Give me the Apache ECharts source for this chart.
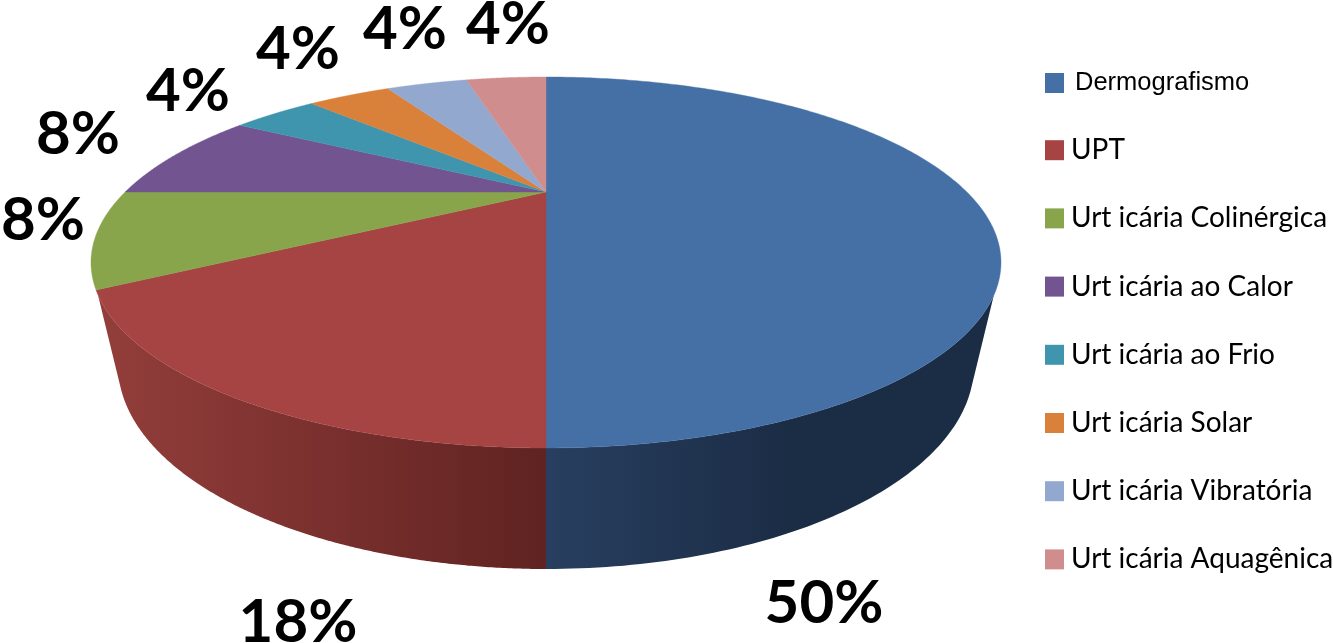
<!DOCTYPE html>
<html><head><meta charset="utf-8">
<style>html,body{margin:0;padding:0;background:#fff}#c{width:1333px;height:643px}</style>
<script src="https://cdn.jsdelivr.net/npm/echarts@6/dist/echarts.min.js"></script>
</head><body><div id="c"></div>
<script>
const categories = ['Dermografismo','UPT','Urt icária Colinérgica','Urt icária ao Calor','Urt icária ao Frio','Urt icária Solar','Urt icária Vibratória','Urt icária Aquagênica'];
const values = [12,4,2,2,1,1,1,1];
const percentLabels = ['50%','18%','8%','8%','4%','4%','4%','4%'];
const colors = ['#4570A6','#A64443','#88A54C','#725490','#4095AE','#D9813A','#93A8CF','#CF8E8D'];

// drawing geometry
const cx=546, cy=262, rx=455, ry=186, apexY=192, topY=77, botY=448;
const baseCx=546, baseCy=365, baseRx=428, baseRy=204;
const up=apexY-topY, dn=botY-apexY, k=(dn-up)/(dn+up), A=up*(1+k), B=rx*Math.sqrt(1-k*k);
const labelPos=[[824,604],[298,623],[43,221],[78,135],[188,92],[298,50],[405,30],[508,25]];
const wallFill=[
 new echarts.graphic.LinearGradient(546,0,790,0,[{offset:0,color:'#283F60'},{offset:1,color:'#1B2C45'}],true),
 new echarts.graphic.LinearGradient(100,0,546,0,[{offset:0,color:'#933E3B'},{offset:.5,color:'#7A302E'},{offset:1,color:'#5F2321'}],true)
];
const total=values.reduce((a,b)=>a+b,0);
function rimPoint(f){
  const t=f*2*Math.PI, x=Math.sin(t), y=Math.cos(t), d=1+k*y;
  return [cx+B*x/d, apexY-A*y/d];
}
function renderSlice(params,api){
  const i=params.seriesIndex, f0=api.value(0)/total, f1=(api.value(0)+api.value(1))/total;
  const top=[[cx,apexY]], wallTop=[], wallBot=[], n=240;
  for(let s=0;s<=n;s++){
    const p=rimPoint(f0+(f1-f0)*s/n); top.push(p);
    const deg=Math.atan2((p[1]-cy)/ry,(p[0]-cx)/rx)*180/Math.PI;
    if(deg>=10&&deg<=170){
      wallTop.push(p);
      const bd=deg>90?(180-(7+(180-deg-10)*83/80)):(7+(deg-10)*83/80);
      const r=bd*Math.PI/180;
      wallBot.push([baseCx+baseRx*Math.cos(r),baseCy+baseRy*Math.sin(r)]);
    }
  }
  const children=[];
  if(wallTop.length>1){
    children.push({type:'polygon',shape:{points:wallTop.concat(wallBot.reverse())},
      style:{fill:wallFill[i]||colors[i]}});
  }
  children.push({type:'polygon',shape:{points:top},style:{fill:colors[i],stroke:colors[i],lineWidth:.4}});
  children.push({type:'text',z2:10,style:{text:percentLabels[i],x:labelPos[i][0],y:labelPos[i][1],align:'center',verticalAlign:'middle',
    fontFamily:'Lato',fontWeight:'bold',fontSize:60,fill:'#000'}});
  return {type:'group',children};
}
let acc=0;
const series=categories.map((name,i)=>{
  const s={type:'custom',name,coordinateSystem:'none',renderItem:renderSlice,animation:false,silent:true,
    itemStyle:{color:colors[i]},data:[[acc,values[i]]]};
  acc+=values[i]; return s;
});
const chart=echarts.init(document.getElementById('c'),null,{renderer:'canvas'});
chart.setOption({
  backgroundColor:'#fff',animation:false,
  legend:{orient:'vertical',left:1040,top:65,icon:'rect',itemWidth:19,itemHeight:20,itemGap:40.2,selectedMode:false,
    data:categories.map((name,i)=>({name,itemStyle:{color:colors[i]},
      textStyle:i===0?{fontFamily:'Liberation Sans',fontSize:25.5,color:'#000',padding:[0,0,3,6],lineHeight:20}
                     :{fontFamily:'Lato',fontSize:28,color:'#000',padding:[0,0,0,2],lineHeight:20}}))},
  series
});
</script></body></html>
